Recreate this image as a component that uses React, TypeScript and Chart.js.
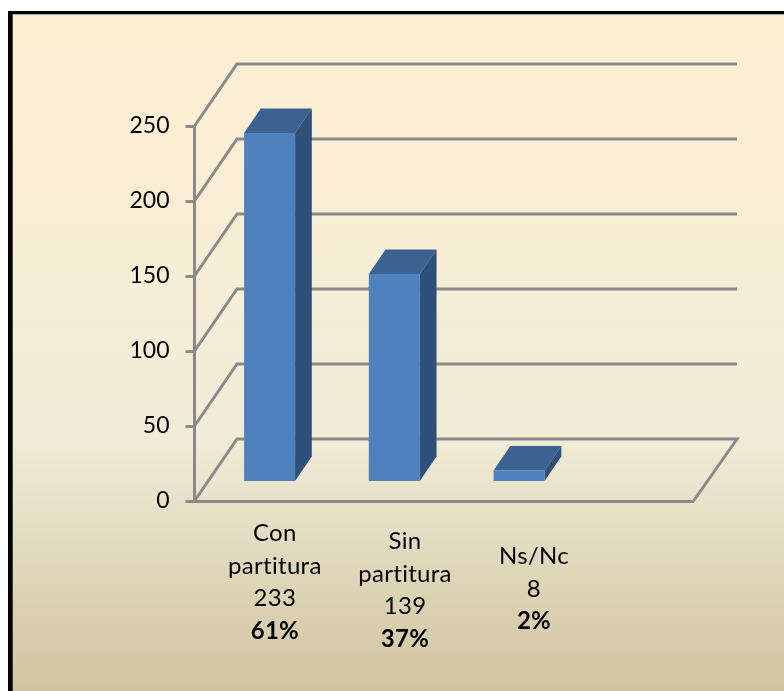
import React, { useEffect, useRef } from "react";
import { Chart, registerables } from "chart.js";

Chart.register(...registerables);

const categories = ["Con partitura", "Sin partitura", "Ns/Nc", ""];
const counts = [233, 139, 8];
const yTicks = [0, 50, 100, 150, 200, 250];
const labelLines = [
  ["Con", "partitura", "233"],
  ["Sin", "partitura", "139"],
  ["Ns/Nc", "8"],
];
const labelPercents = ["61%", "37%", "2%"];

const FONT = "Lato, Carlito, 'Open Sans', sans-serif";
const GRID = "#8a8a8a";
const BACK = { dx: 42.5, dxRight: 43.5, dy: -62 };
const BAR_SHIFT = { dx: 12.7, dy: -18.5 };
const BAR_DEPTH = { dx: 16.7, dy: -24.5 };
const LABEL_OFFSET = [{ dx: 18, top: 533.5 }, { dx: 23.4, top: 541.5 }, { dx: 27.6, top: 556.5 }];
const LINE_GAP = 32.5;

const threeD = {
  id: "threeD",
  beforeDraw(chart: any) {
    const { ctx, width, height, scales } = chart;
    const g = ctx.createLinearGradient(0, 14, 0, height);
    g.addColorStop(0, "#feefd2");
    g.addColorStop(0.62, "#f1ecd8");
    g.addColorStop(1, "#d0c4a0");
    ctx.save();
    ctx.fillStyle = "#ffffff";
    ctx.fillRect(0, 0, width, height);
    ctx.fillStyle = g;
    ctx.fillRect(8, 11, width - 8, height - 11);
    ctx.fillStyle = "#000000";
    ctx.fillRect(8, 11, width - 8, 3.3);
    ctx.fillRect(8, 11, 4.7, height - 11);

    const y = scales.y;
    const x0 = scales.x.left;
    const x1 = scales.x.right;
    ctx.strokeStyle = GRID;
    ctx.lineWidth = 3;
    ctx.lineJoin = "miter";
    yTicks.forEach((v) => {
      const py = y.getPixelForValue(v);
      ctx.beginPath();
      ctx.moveTo(x0, py);
      ctx.lineTo(x0 + BACK.dx, py + BACK.dy);
      ctx.lineTo(x1 + BACK.dxRight, py + BACK.dy);
      if (v === 0) ctx.lineTo(x1, py);
      ctx.stroke();
    });
    ctx.restore();
  },
  beforeDatasetsDraw(chart: any) {
    const { ctx } = chart;
    ctx.save();
    ctx.translate(BAR_SHIFT.dx, BAR_SHIFT.dy);
    chart.getDatasetMeta(0).data.forEach((bar: any) => {
      const l = bar.x - bar.width / 2;
      const r = bar.x + bar.width / 2;
      const t = bar.y;
      const b = bar.base;
      ctx.fillStyle = "#3c6291";
      ctx.beginPath();
      ctx.moveTo(l, t);
      ctx.lineTo(l + BAR_DEPTH.dx, t + BAR_DEPTH.dy);
      ctx.lineTo(r + BAR_DEPTH.dx, t + BAR_DEPTH.dy);
      ctx.lineTo(r, t);
      ctx.closePath();
      ctx.fill();
      ctx.fillStyle = "#2f5078";
      ctx.beginPath();
      ctx.moveTo(r, t);
      ctx.lineTo(r + BAR_DEPTH.dx, t + BAR_DEPTH.dy);
      ctx.lineTo(r + BAR_DEPTH.dx, b + BAR_DEPTH.dy);
      ctx.lineTo(r, b);
      ctx.closePath();
      ctx.fill();
    });
  },
  afterDatasetsDraw(chart: any) {
    chart.ctx.restore();
  },
  afterDraw(chart: any) {
    const { ctx, scales } = chart;
    ctx.save();
    ctx.fillStyle = "#000000";
    ctx.textAlign = "center";
    ctx.textBaseline = "middle";
    ctx.letterSpacing = "0.3px";
    labelLines.forEach((lines, i) => {
      const cx = scales.x.getPixelForTick(i) + LABEL_OFFSET[i].dx;
      const top = LABEL_OFFSET[i].top;
      ctx.font = `400 24px ${FONT}`;
      lines.forEach((line, j) => ctx.fillText(line, cx, top + j * LINE_GAP));
      ctx.font = `700 24px ${FONT}`;
      ctx.fillText(labelPercents[i], cx, top + lines.length * LINE_GAP);
    });
    ctx.restore();
  },
};

export default function App() {
  const ref = useRef<HTMLCanvasElement>(null);
  useEffect(() => {
    const chart = new Chart(ref.current!, {
      type: "bar",
      data: {
        labels: categories,
        datasets: [
          {
            data: counts,
            backgroundColor: "#4f81bd",
            borderWidth: 0,
            barPercentage: 0.409,
            categoryPercentage: 1,
            clip: false,
          } as any,
        ],
      },
      options: {
        animation: false,
        responsive: false,
        devicePixelRatio: 1,
        layout: { padding: { left: 194.5 - 100, right: 90.5, top: 126, bottom: 190 } },
        plugins: { legend: { display: false }, tooltip: { enabled: false } },
        scales: {
          x: {
            afterFit: (s: any) => { s.height = 0; },
            grid: { display: false },
            border: { display: true, color: GRID, width: 3 },
            ticks: { display: false },
          },
          y: {
            min: 0,
            max: 250,
            afterFit: (s: any) => { s.width = 100; },
            ticks: {
              stepSize: 50,
              padding: 16,
              color: "#000000",
              font: { family: FONT, size: 23 },
            },
            grid: { drawOnChartArea: false, color: GRID, lineWidth: 3, tickLength: 9 },
            border: { display: true, color: GRID, width: 3 },
          },
        },
      },
      plugins: [threeD],
    });
    return () => chart.destroy();
  }, []);
  return (
    <div style={{ position: "absolute", left: 0, top: 0, width: 784, height: 691, overflow: "hidden" }}>
      <canvas ref={ref} width={784} height={691} style={{ display: "block" }} />
    </div>
  );
}
